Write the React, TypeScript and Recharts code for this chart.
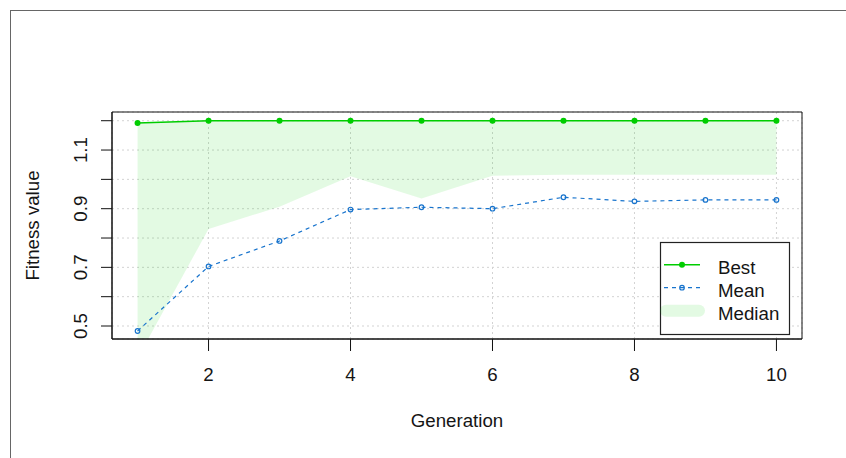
import { ComposedChart, XAxis, YAxis, CartesianGrid, Line, Area, ReferenceArea } from 'recharts';

const generations = [1, 2, 3, 4, 5, 6, 7, 8, 9, 10];
const bestValues = [1.192, 1.2, 1.2, 1.2, 1.2, 1.2, 1.2, 1.2, 1.2, 1.2];
const meanValues = [0.483, 0.703, 0.79, 0.897, 0.905, 0.9, 0.939, 0.925, 0.93, 0.93];
const medianValues = [0.39, 0.831, 0.907, 1.011, 0.935, 1.012, 1.016, 1.016, 1.016, 1.016];

const xTicks = [2, 4, 6, 8, 10];
const yTicks = [0.5, 0.6, 0.7, 0.8, 0.9, 1.0, 1.1, 1.2];
const yLabels = ['0.5', '0.7', '0.9', '1.1'];
const legendNames = ['Best', 'Mean', 'Median'];

const xDomain = [0.64, 10.36];
const yDomain = [0.4557, 1.2297];

const GREEN = '#00CD00';
const BLUE = '#1874CD';
const FONT = '"Liberation Sans", Arial, sans-serif';
const FS = 18.7;
const INK = '#151515';

const data = generations.map((g, i) => ({
  gen: g,
  best: bestValues[i],
  mean: meanValues[i],
  band: [medianValues[i], bestValues[i]],
}));

const YTick = (props: any) => {
  const { x, y, payload } = props;
  const label = payload.value.toFixed(1);
  if (!yLabels.includes(label)) return <g />;
  return (
    <text x={x} y={y} transform={`rotate(-90 ${x} ${y})`} textAnchor="middle"
      fontFamily={FONT} fontSize={FS} fill={INK}>
      {label}
    </text>
  );
};

const XTitle = (props: any) => {
  const vb = props.viewBox;
  return (
    <text x={vb.x + vb.width / 2} y={vb.y + 87.6} textAnchor="middle"
      fontFamily={FONT} fontSize={FS} fill={INK}>
      Generation
    </text>
  );
};

const YTitle = (props: any) => {
  const vb = props.viewBox;
  const x = vb.x - 33;
  const y = vb.y + vb.height / 2;
  return (
    <text x={x} y={y} transform={`rotate(-90 ${x} ${y})`} textAnchor="middle"
      fontFamily={FONT} fontSize={FS} fill={INK}>
      Fitness value
    </text>
  );
};

const LegendBox = () => (
  <svg width={846} height={458} style={{ position: 'absolute', left: 0, top: 0, pointerEvents: 'none' }}>
    <rect x={660.5} y={242.5} width={129} height={92} fill="#fff" stroke="#222" strokeWidth={1.2} />
    <line x1={664} x2={700} y1={264.7} y2={264.7} stroke={GREEN} strokeWidth={1.5} />
    <circle cx={682} cy={264.7} r={3} fill={GREEN} />
    <line x1={664} x2={700} y1={287.7} y2={287.7} stroke={BLUE} strokeWidth={1.2} strokeDasharray="4 4" />
    <circle cx={682} cy={287.7} r={2.3} fill="none" stroke={BLUE} strokeWidth={1.2} />
    <line x1={666} x2={699} y1={310.7} y2={310.7} stroke={GREEN} strokeOpacity={0.11} strokeWidth={12} strokeLinecap="round" />
    {legendNames.map((n, i) => (
      <text key={n} x={718} y={273.5 + i * 23} fontFamily={FONT} fontSize={FS} fill={INK}>{n}</text>
    ))}
  </svg>
);

export default function App() {
  return (
    <div style={{ position: 'absolute', left: 0, top: 0, width: 846, height: 458, overflow: 'hidden', background: '#fff' }}>
      <div style={{ position: 'absolute', left: 10, top: 10, width: 900, height: 500, borderLeft: '1px solid #666', borderTop: '1px solid #666' }} />
      <div style={{ position: 'absolute', left: 0, top: 0 }}>
        <ComposedChart width={846} height={458} data={data}
          margin={{ top: 112, right: 44, bottom: 59, left: 72 }}>
          <CartesianGrid stroke="#D3D3D3" strokeDasharray="2 3" />
          <XAxis dataKey="gen" type="number" domain={xDomain} ticks={xTicks} allowDataOverflow
            height={60} tickSize={12} tickMargin={17}
            axisLine={{ stroke: '#111' }} tickLine={{ stroke: '#111' }}
            tick={{ fontFamily: FONT, fontSize: FS, fill: INK }}
            label={{ content: (p: any) => <XTitle {...p} /> }} />
          <YAxis type="number" domain={yDomain} ticks={yTicks} allowDataOverflow
            width={40} tickSize={11} tickMargin={14}
            axisLine={{ stroke: '#111' }} tickLine={{ stroke: '#111' }}
            tick={(p: any) => <YTick {...p} />}
            label={{ content: (p: any) => <YTitle {...p} /> }} />
          <Area type="linear" dataKey="band" stroke="none" fill={GREEN} fillOpacity={0.11}
            isAnimationActive={false} activeDot={false} />
          <Line type="linear" dataKey="best" stroke={GREEN} strokeWidth={1.5}
            dot={{ r: 3, fill: GREEN, stroke: 'none' }} activeDot={false} isAnimationActive={false} />
          <Line type="linear" dataKey="mean" stroke={BLUE} strokeWidth={1.2} strokeDasharray="4 4"
            dot={{ r: 2.3, fill: 'none', stroke: BLUE, strokeWidth: 1.2, strokeDasharray: '' }}
            activeDot={false} isAnimationActive={false} />
          <ReferenceArea x1={xDomain[0]} x2={xDomain[1]} y1={yDomain[0]} y2={yDomain[1]}
            fill="none" stroke="#111" strokeWidth={1} ifOverflow="visible" />
        </ComposedChart>
      </div>
      <LegendBox />
    </div>
  );
}
